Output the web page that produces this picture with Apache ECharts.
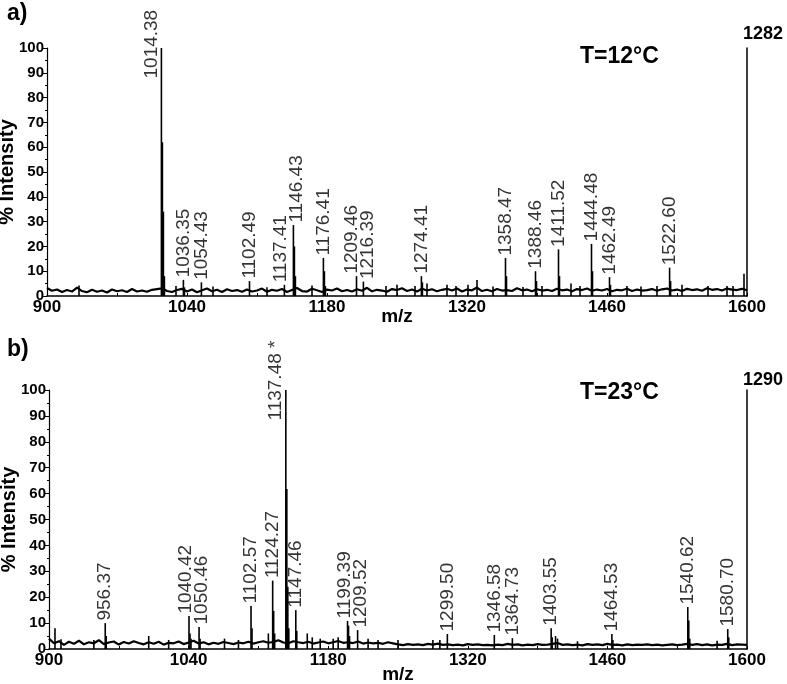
<!DOCTYPE html>
<html>
<head>
<meta charset="utf-8">
<script src="https://cdn.jsdelivr.net/npm/echarts@6/dist/echarts.min.js"></script>
<style>
html, body { margin: 0; padding: 0; background: #fff; }
#chart { width: 787px; height: 684px; }
</style>
</head>
<body>
<div id="chart"></div>
<script>
// x axis ticks (m/z)
var xTicks = [900, 1040, 1180, 1320, 1460, 1600];
var xMinorTicks = [970, 1110, 1250, 1390, 1530];

// baseline noise, read every 5 m/z starting at 900
var noiseStart = 900, noiseStep = 5;
var noiseA = [
    3.2,2.1,2.6,1.6,2.4,1.8,3.4,2.0,1.5,2.5,1.7,2.2,1.4,2.6,1.9,2.3,1.6,2.8,1.8,2.2,
    1.7,2.5,2.8,3.1,2.0,1.6,2.4,2.9,1.8,2.6,1.5,2.3,3.0,1.9,2.5,1.6,2.7,2.0,2.4,1.7,
    2.6,1.8,2.2,3.0,1.7,2.5,2.1,2.8,1.6,2.4,3.2,2.0,1.8,2.9,2.3,1.6,2.6,2.2,3.0,1.9,
    2.4,1.8,2.7,2.1,3.3,1.9,2.5,2.2,1.7,2.8,2.4,3.1,2.0,2.6,1.8,2.9,2.2,2.7,1.9,2.5,
    2.9,2.2,3.0,1.8,2.6,2.3,3.4,2.0,2.5,1.9,2.8,2.2,2.4,2.0,3.1,2.3,2.6,1.9,2.7,2.2,
    2.5,2.0,2.9,2.3,2.6,1.9,2.8,2.4,3.0,2.1,2.6,2.2,2.8,1.9,2.5,2.3,2.9,2.0,2.6,2.2,
    2.4,2.8,2.1,2.7,3.0,2.2,2.6,2.0,2.9,2.4,2.7,2.1,3.1,2.5,2.8,2.2,3.0,2.6,2.4,2.9,2.3
];
var noiseB = [
    4.0,2.2,3.0,1.6,2.8,2.0,3.2,1.8,2.6,2.2,3.4,1.9,2.5,2.9,1.7,2.7,2.1,3.0,2.3,1.8,
    2.6,2.0,2.8,1.7,2.4,2.2,2.9,1.9,2.5,3.2,2.1,2.6,1.8,2.4,2.0,2.7,2.3,1.9,2.5,2.2,
    2.8,2.1,2.6,3.0,2.4,2.7,3.4,2.5,2.2,3.0,2.6,2.3,2.8,2.1,2.5,2.9,2.2,2.6,3.1,2.4,
    2.6,2.3,2.9,2.1,2.5,2.2,2.4,2.0,2.6,2.2,1.8,1.5,1.9,1.6,1.8,1.5,2.0,1.7,2.1,1.6,
    1.8,1.5,1.7,1.4,1.9,1.6,1.8,1.5,1.6,1.4,1.7,1.5,2.0,1.6,1.8,1.4,1.7,1.5,1.9,1.6,
    1.7,2.0,2.3,1.6,1.8,1.5,1.7,1.4,1.9,1.6,1.8,1.5,2.0,1.6,1.7,1.4,1.8,1.5,1.7,1.6,
    1.8,1.5,1.7,1.4,1.6,1.8,1.5,1.7,2.0,1.6,1.9,1.5,1.8,1.4,1.7,1.6,2.0,1.5,1.8,1.7,1.6
];

// peaks [m/z, % intensity]
var peaksA = [
    [932,4.2],[1014.4,100],[1015.4,62],[1016.4,34],[1017.4,8],[1029,4],[1036.4,6.5],[1037.4,3.5],
    [1054.4,5.5],[1066,3.8],[1102.5,6],[1120,3.5],[1137.4,4.5],[1146.4,28.6],[1147.4,20],[1148.4,8],
    [1165,4.2],[1176.4,15.3],[1177.4,10],[1178.4,4],[1209.5,8],[1216.4,5.8],[1239,4],[1250,4.5],
    [1268,4],[1274.4,8],[1275.4,5.5],[1280,5],[1300,4.5],[1309,4],[1321,4.5],[1330,6.5],[1346,3.8],
    [1358.5,15.3],[1359.5,8],[1376,3.6],[1388.5,10],[1389.5,6],[1395,4],[1411.5,18.8],[1412.5,8],
    [1424,5],[1433,4],[1444.5,21],[1445.5,10],[1462.5,7.6],[1463.5,4.5],[1480,4],[1494,3.8],[1510,4],
    [1522.6,11.4],[1523.6,6],[1535,4.5],[1561,4],[1580,4],[1586,4],[1597,9]
];
var peaksB = [
    [906,8],[912,3.8],[945,3.5],[956.4,10],[957.4,5],[1000,5],[1020,3.5],[1040.4,12.7],[1041.4,6],
    [1042.4,4],[1050.5,8.5],[1051.5,4],[1076,4],[1090,3.5],[1102.6,16.6],[1103.6,8],[1120,6],
    [1124.3,26.4],[1125.3,14.7],[1126.3,6],[1137.5,100],[1138.5,61.8],[1139.5,24],[1140.5,8],
    [1147.5,15],[1148.5,7],[1159,6],[1164,4.5],[1172,4],[1185,4],[1190,4.5],[1199.4,10.8],
    [1200.4,9],[1201.4,5],[1209.5,7.3],[1220,4],[1230,3.5],[1250,3.5],[1285,3.5],[1292,3.5],
    [1299.5,5.8],[1346.6,5.4],[1364.7,4.2],[1403.6,8],[1404.6,4.5],[1408,5],[1410,4],[1430,3],
    [1464.5,5.8],[1465.5,3.5],[1540.6,16.2],[1541.6,11],[1542.6,4],[1570,3.2],[1580.7,7.7],[1581.7,4.5]
];

// labelled peaks [m/z, % intensity]
var labelsA = [
    [1014.38,100],[1036.35,6.5],[1054.43,5.5],[1102.49,6],[1137.41,4.5],[1146.43,28.6],
    [1176.41,15.3],[1209.46,8],[1216.39,5.8],[1274.41,8],[1358.47,15.3],[1388.46,10],
    [1411.52,18.8],[1444.48,21],[1462.49,7.6],[1522.60,11.4]
];
var labelsB = [
    [956.37,10],[1040.42,12.7],[1050.46,8.5],[1102.57,16.6],[1124.27,26.4],[1137.48,100],
    [1147.46,15],[1199.39,10.8],[1209.52,7.3],[1299.50,5.8],[1346.58,5.4],[1364.73,4.2],
    [1403.55,8],[1464.53,5.8],[1540.62,16.2],[1580.70,7.7]
];
var starredB = 1137.48;

var FONT = 'Liberation Sans, Arial, sans-serif';
var LABEL_SPACE = 16;   // px kept between neighbouring labels

function noiseData(arr) {
    return arr.map(function(v, i) { return [noiseStart + i * noiseStep, v]; });
}

function labelData(arr, pxPerUnit) {
    var shift = arr.map(function() { return 0; });
    // push close neighbours apart sideways
    for (var i = 1; i < arr.length; i++) {
        if (arr[i][1] >= 99 || arr[i - 1][1] >= 99) continue;
        var d = (arr[i][0] - arr[i - 1][0]) * pxPerUnit;
        if (d < LABEL_SPACE) {
            var s = (LABEL_SPACE - d) / 2;
            shift[i - 1] -= s;
            shift[i] += s;
        }
    }
    return arr.map(function(d, i) {
        var item = { value: d };
        if (d[1] >= 99) {
            // base peak: label sits beside the line
            item.label = { offset: [-33, -10] };
        } else if (shift[i]) {
            item.label = { offset: [0, shift[i]] };
        }
        return item;
    });
}

function xAxisFor(idx, gap) {
    return {
        gridIndex: idx, type: 'value', min: 900, max: 1600,
        name: 'm/z', nameLocation: 'middle', nameGap: gap, nameMoveOverlap: false,
        nameTextStyle: { color: '#000', fontSize: 19, fontWeight: 'bold', fontFamily: FONT },
        axisLine: { lineStyle: { color: '#000', width: 1.5 } },
        axisTick: { customValues: xTicks.concat(xMinorTicks), inside: true, length: 3, lineStyle: { color: '#000' } },
        axisLabel: {
            customValues: xTicks, margin: 3, color: '#000', fontSize: 17, fontWeight: 'bold', fontFamily: FONT,
            formatter: function(v) { return String(v); }
        },
        splitLine: { show: false }
    };
}

function yAxisFor(idx) {
    return {
        gridIndex: idx, type: 'value', min: 0, max: 100, interval: 10,
        name: '% Intensity', nameLocation: 'middle', nameGap: 30, nameMoveOverlap: false,
        nameTextStyle: { color: '#000', fontSize: 20, fontWeight: 'bold', fontFamily: FONT },
        axisLine: { show: true, lineStyle: { color: '#000', width: 1.2 } },
        axisTick: { show: true, length: 4, lineStyle: { color: '#000' } },
        minorTick: { show: true, splitNumber: 2, length: 2, lineStyle: { color: '#000' } },
        axisLabel: { margin: 3, color: '#000', fontSize: 15, fontWeight: 'bold', fontFamily: FONT },
        splitLine: { show: false }
    };
}

function rightAxisFor(idx) {
    return {
        gridIndex: idx, type: 'value', position: 'right', min: 0, max: 100,
        axisLine: { show: true, lineStyle: { color: '#000', width: 1.5 } },
        axisTick: { show: false }, axisLabel: { show: false }, splitLine: { show: false }
    };
}

var grids = [
    { left: 47, right: 40, top: 48, height: 248, containLabel: false, outerBoundsMode: 'none' },
    { left: 49, right: 40, top: 390, height: 259, containLabel: false, outerBoundsMode: 'none' }
];

function panelSeries(idx, noise, peaks, labels) {
    var pxPerUnit = (787 - grids[idx].left - grids[idx].right) / 700;
    return [
        {
            type: 'line', xAxisIndex: idx, yAxisIndex: idx * 2, data: noiseData(noise),
            symbol: 'none', silent: true,
            lineStyle: { color: '#000', width: 2.2 }
        },
        {
            type: 'bar', xAxisIndex: idx, yAxisIndex: idx * 2, data: peaks,
            barWidth: 1.6, silent: true,
            itemStyle: { color: '#000' }
        },
        {
            type: 'scatter', xAxisIndex: idx, yAxisIndex: idx * 2, data: labelData(labels, pxPerUnit),
            symbolSize: 1, silent: true,
            itemStyle: { color: 'rgba(0,0,0,0)' },
            label: {
                show: true, position: 'top', distance: 2, rotate: 90,
                align: 'left', verticalAlign: 'middle',
                color: '#000', fontSize: 19, fontFamily: FONT,
                formatter: function(p) {
                    var t = p.value[0].toFixed(2);
                    if (idx === 1 && p.value[0] === starredB) t += ' *';
                    return t;
                }
            }
        }
    ];
}

var chart = echarts.init(document.getElementById('chart'));

var titleStyle = function(size) {
    return { color: '#000', fontSize: size, fontWeight: 'bold', fontFamily: FONT };
};

var option = {
    backgroundColor: '#fff',
    animation: false,
    title: [
        { text: 'a)', left: 7, top: 2, padding: 0, textStyle: titleStyle(23) },
        { text: 'T=12°C', left: 580, top: 45, padding: 0, textStyle: titleStyle(23) },
        { text: '1282', left: 743, top: 25, padding: 0, textStyle: titleStyle(18) },
        { text: 'b)', left: 7, top: 338, padding: 0, textStyle: titleStyle(23) },
        { text: 'T=23°C', left: 580, top: 381, padding: 0, textStyle: titleStyle(23) },
        { text: '1290', left: 743, top: 371, padding: 0, textStyle: titleStyle(18) }
    ],
    grid: grids,
    xAxis: [xAxisFor(0, 11), xAxisFor(1, 16)],
    yAxis: [yAxisFor(0), rightAxisFor(0), yAxisFor(1), rightAxisFor(1)],
    series: panelSeries(0, noiseA, peaksA, labelsA).concat(panelSeries(1, noiseB, peaksB, labelsB))
};

chart.setOption(option);
</script>
</body>
</html>
